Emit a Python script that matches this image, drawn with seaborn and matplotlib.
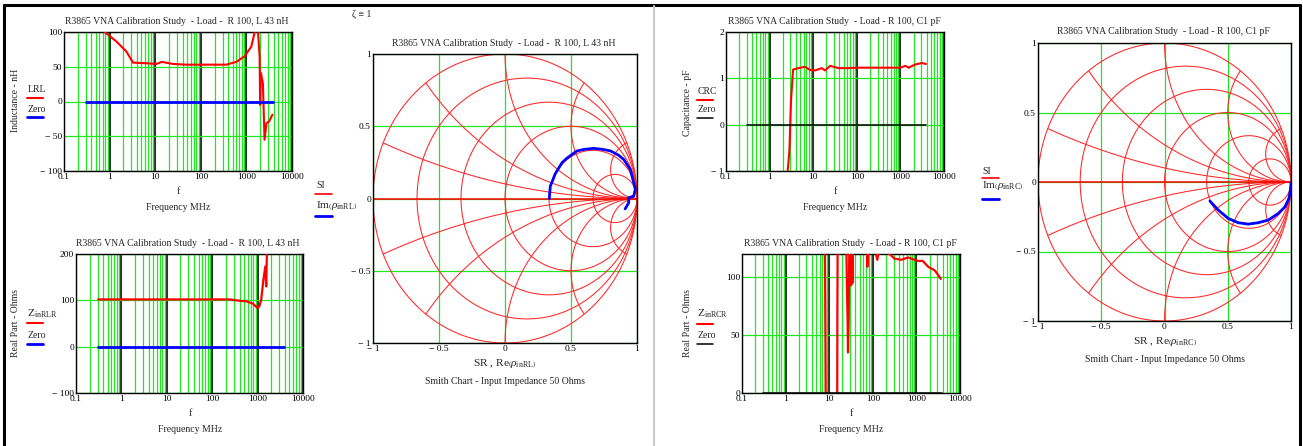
import matplotlib

matplotlib.use("Agg")

import matplotlib.pyplot as plt
from matplotlib.lines import Line2D
from matplotlib.ticker import FixedFormatter, FixedLocator, LogLocator, NullFormatter
import numpy as np
import seaborn as sns

ZERO_FREQ = [0.3, 3800]
ZERO_VAL = [0, 0]

# inductance estimate, R 100 / L 43 nH load (nH vs MHz)
LRL_FREQ = [0.3, 0.55, 0.78, 1.4, 2.33, 3.26, 6.4, 10.6, 14, 24.6, 48, 100, 363, 600, 910,
            1282, 1520, 1650, 1795, 1950, 2000, 2080, 2300, 2500, 2760, 3130, 3720]
LRL_VAL = [190, 130, 100, 86.5, 72, 56, 55, 54, 57, 54, 53, 53, 53, 57, 65,
           79, 100, 130, 100, 65, -5, 41, 26, -55, -31, -29, -19]

# real part, R 100 / L 43 nH load (Ohms vs MHz)
ZRLR_FREQ = [0.31, 245, 405, 560, 790, 1000, 1090, 1200, 1340, 1480, 1550, 1600, 1700]
ZRLR_VAL = [102, 102, 99, 98, 93, 83, 87, 101, 144, 173, 130, 200, 260]

# capacitance estimate, R 100 / C1 pF load (pF vs MHz)
CRC_FREQ = [2.5, 2.6, 2.85, 3.1, 3.46, 4.6, 6.5, 8.5, 11, 15.8, 18.7, 24.5, 38, 65, 100,
            540, 1000, 1300, 1550, 2200, 3100, 3860]
CRC_VAL = [-2.5, -1.0, -0.55, 0.53, 1.19, 1.22, 1.25, 1.18, 1.17, 1.22, 1.17, 1.27, 1.22, 1.22, 1.23,
           1.23, 1.23, 1.27, 1.23, 1.3, 1.33, 1.31]

# real part, R 100 / C1 pF load (Ohms vs MHz)
ZRCR_FREQ = [0.3, 7.6, 7.9, 8.1, 8.4, 15.2, 15.4, 15.7, 20, 24.6, 25.5, 26.5, 27, 28, 29, 31, 32,
             33, 34, 35, 50, 73, 75, 78, 110, 127, 140, 224, 316, 450, 640, 1100, 1400, 1860,
             2600, 3150, 3600]
ZRCR_VAL = [300, 300, 130, 84, -40, -40, 70, 150, 160, 130, 92, 60, 35, 66, 130, 150, 93,
            150, 95, 140, 135, 125, 109, 125, 125, 115, 125, 121, 116, 115, 117, 114, 114, 109,
            106, 102, 98.5]

# reflection coefficient traces
RHO_RL_RE = [0.336, 0.343, 0.364, 0.38, 0.432, 0.47, 0.545, 0.6, 0.672, 0.74, 0.80, 0.86, 0.90,
             0.95, 0.975, 0.987, 0.975, 0.937, 0.937, 0.91]
RHO_RL_IM = [0.0, 0.085, 0.132, 0.17, 0.248, 0.28, 0.329, 0.34, 0.347, 0.34, 0.329, 0.30, 0.27,
             0.2, 0.109, 0.063, 0.016, 0.005, -0.03, -0.072]
RHO_RC_RE = [0.359, 0.425, 0.504, 0.583, 0.662, 0.741, 0.82, 0.90, 0.953, 0.984, 0.995, 1.0]
RHO_RC_IM = [-0.137, -0.202, -0.262, -0.293, -0.303, -0.293, -0.274, -0.226, -0.178, -0.118,
             -0.058, -0.005]

DECADES = [0.1, 1, 10, 100, 1000, 10000]
DECADE_LABELS = ["0.1", "1", "10", "100", "1000", "10000"]
SMITH_TICKS = [-1, -0.5, 0, 0.5, 1]
R_CIRCLES = [0, 0.2, 0.5, 1, 2, 5]
X_ARCS = [0.2, 0.5, 1, 2, 5, -0.2, -0.5, -1, -2, -5]

TITLE_L = "R3865 VNA Calibration Study  - Load -  R 100, L 43 nH"
TITLE_C = "R3865 VNA Calibration Study  - Load - R 100, C1 pF"

W, H = 1303, 446
GREEN = "#22e622"
DECADE = "#303030"
RED = "#ff0000"
BLUE = "#0000ff"
SMITH_RED = "#ff2626"
TICK_FS = 6.8
TEXT_FS = 7.0
MATH_FS = 8.2

sns.set_theme(style="white")
plt.rcParams["font.family"] = ["Liberation Serif", "DejaVu Serif"]
plt.rcParams["mathtext.fontset"] = "custom"
plt.rcParams["mathtext.rm"] = "Liberation Serif"
plt.rcParams["mathtext.it"] = "Liberation Serif:italic"
plt.rcParams["axes.unicode_minus"] = False


def rect(left, top, right, bottom):
    return [left / W, 1 - bottom / H, (right - left) / W, (bottom - top) / H]


def txt(fig, x, y, s, **kw):
    kw.setdefault("fontsize", TEXT_FS)
    kw.setdefault("ha", "center")
    kw.setdefault("va", "center")
    fig.text(x / W, 1 - y / H, s, **kw)


def hline(fig, x0, x1, y, color, lw):
    fig.add_artist(Line2D([x0 / W, x1 / W], [1 - y / H, 1 - y / H], color=color, lw=lw))


def mc_label(v):
    if v < 0:
        return "\u2212 " + format(abs(v), "g")
    return format(v, "g")


def style_frame(ax):
    ax.set_axisbelow(True)
    ax.tick_params(which="both", length=0, labelsize=TICK_FS, pad=1.5, colors="black")
    for s in ax.spines.values():
        s.set_visible(True)
        s.set_color("black")
        s.set_linewidth(1.0)


def freq_axes(fig, r, ylim, yticks):
    ax = fig.add_axes(r)
    ax.set_xscale("log")
    ax.set_xlim(0.1, 10000)
    ax.set_ylim(*ylim)
    ax.xaxis.set_major_locator(FixedLocator(DECADES))
    ax.xaxis.set_major_formatter(FixedFormatter(DECADE_LABELS))
    ax.xaxis.set_minor_locator(LogLocator(base=10, subs=np.arange(2, 10), numticks=60))
    ax.xaxis.set_minor_formatter(NullFormatter())
    ax.yaxis.set_major_locator(FixedLocator(yticks))
    ax.yaxis.set_major_formatter(FixedFormatter([mc_label(v) for v in yticks]))
    ax.grid(True, which="minor", axis="x", color=GREEN, lw=0.9)
    ax.grid(True, which="major", axis="x", color=DECADE, lw=1.5)
    ax.grid(True, which="major", axis="y", color=GREEN, lw=0.9)
    style_frame(ax)
    return ax


def smith_axes(fig, r):
    ax = fig.add_axes(r)
    ax.set_xlim(-1, 1)
    ax.set_ylim(-1, 1)
    for axis in (ax.xaxis, ax.yaxis):
        axis.set_major_locator(FixedLocator(SMITH_TICKS))
        axis.set_major_formatter(FixedFormatter([mc_label(v) for v in SMITH_TICKS]))
    ax.grid(True, color=GREEN, lw=0.9)
    style_frame(ax)
    t = np.linspace(0, 2 * np.pi, 500)
    for rr in R_CIRCLES:
        c, rad = rr / (1 + rr), 1 / (1 + rr)
        ax.plot(c + rad * np.cos(t), rad * np.sin(t), color=SMITH_RED, lw=0.75)
    rs = np.concatenate([[0], np.logspace(-3, 3, 400)])
    for xx in X_ARCS:
        z = rs + 1j * xx
        g = (z - 1) / (z + 1)
        ax.plot(g.real, g.imag, color=SMITH_RED, lw=0.75)
    ax.axhline(0, color=RED, lw=1.1, zorder=2.5)
    return ax


def trace(ax, x, y, color, lw, sort=True):
    sns.lineplot(x=x, y=y, ax=ax, color=color, lw=lw, sort=sort, estimator=None, zorder=3)
    ax.set_xlabel("")
    ax.set_ylabel("")


fig = plt.figure(figsize=(W / 100, H / 100), dpi=100)

# page frame
fig.add_artist(Line2D([4 / W, 1300 / W], [1 - 5 / H, 1 - 5 / H], color="black", lw=2.2))
fig.add_artist(Line2D([4 / W, 4 / W], [0, 1 - 5 / H], color="black", lw=2.2))
fig.add_artist(Line2D([1300 / W, 1300 / W], [0, 1 - 5 / H], color="black", lw=2.2))
fig.add_artist(Line2D([654 / W, 654 / W], [0, 1 - 6 / H], color="#c8c8c8", lw=1.5))

# panel 1: inductance
ax1 = freq_axes(fig, rect(64, 32, 292, 171), (-100, 100), [-100, -50, 0, 50, 100])
trace(ax1, LRL_FREQ, LRL_VAL, RED, 1.5)
trace(ax1, ZERO_FREQ, ZERO_VAL, BLUE, 2.0)
txt(fig, 177, 21, TITLE_L)
txt(fig, 178, 192, "f")
txt(fig, 178, 207, "Frequency MHz")
txt(fig, 15, 100, "Inductance - nH", rotation=90)
txt(fig, 28, 90, "LRL", ha="left")
hline(fig, 27, 43, 98, RED, 1.5)
txt(fig, 28, 109, "Zero", ha="left")
hline(fig, 27, 43, 117, BLUE, 2.0)

# panel 2: real part, RL load
ax2 = freq_axes(fig, rect(76, 254, 303, 393), (-100, 200), [-100, 0, 100, 200])
trace(ax2, ZRLR_FREQ, ZRLR_VAL, RED, 1.6)
trace(ax2, ZERO_FREQ, ZERO_VAL, BLUE, 2.0)
txt(fig, 188, 244, TITLE_L)
txt(fig, 190, 413, "f")
txt(fig, 190, 429, "Frequency MHz")
txt(fig, 15, 323, "Real Part - Ohms", rotation=90)
txt(fig, 27, 314, r"Z$_{\mathrm{inRLR}}$", ha="left", fontsize=MATH_FS)
hline(fig, 27, 43, 323, RED, 1.5)
txt(fig, 28, 335, "Zero", ha="left")
hline(fig, 27, 43, 344, BLUE, 2.0)

# panel 3: Smith chart, RL load
ax3 = smith_axes(fig, rect(373, 54, 637, 343))
trace(ax3, RHO_RL_RE, RHO_RL_IM, BLUE, 2.0, sort=False)
txt(fig, 504, 43, TITLE_L)
txt(fig, 505, 364, r"SR , Re$\left(\rho_{\mathrm{inRL}}\right)$", fontsize=MATH_FS)
txt(fig, 505, 382, "Smith Chart - Input Impedance 50 Ohms")
txt(fig, 362, 14, "\u03b6 \u2261 1")
txt(fig, 316, 185, "SI", ha="left")
hline(fig, 315, 332, 194, RED, 1.2)
txt(fig, 316, 205, r"Im$\left(\rho_{\mathrm{inRL}}\right)$", ha="left", fontsize=MATH_FS)
hline(fig, 315, 332, 216, BLUE, 2.0)

# panel 4: capacitance
ax4 = freq_axes(fig, rect(726, 32, 944, 171), (-1, 2), [-1, 0, 1, 2])
trace(ax4, CRC_FREQ, CRC_VAL, RED, 1.5)
trace(ax4, ZERO_FREQ, ZERO_VAL, "black", 1.1)
txt(fig, 834, 21, TITLE_C)
txt(fig, 835, 192, "f")
txt(fig, 835, 207, "Frequency MHz")
txt(fig, 687, 103, "Capacitance - pF", rotation=90)
txt(fig, 698, 92, "CRC", ha="left")
hline(fig, 697, 713, 100, RED, 1.5)
txt(fig, 698, 110, "Zero", ha="left")
hline(fig, 697, 713, 118, "black", 1.1)

# panel 5: real part, RC load
ax5 = freq_axes(fig, rect(742, 254, 960, 393), (0, 120), [0, 50, 100])
trace(ax5, ZRCR_FREQ, ZRCR_VAL, RED, 1.6)
trace(ax5, ZERO_FREQ, ZERO_VAL, "black", 1.1)
txt(fig, 850, 244, TITLE_C)
txt(fig, 851, 413, "f")
txt(fig, 851, 429, "Frequency MHz")
txt(fig, 687, 323, "Real Part - Ohms", rotation=90)
txt(fig, 697, 314, r"Z$_{\mathrm{inRCR}}$", ha="left", fontsize=MATH_FS)
hline(fig, 697, 713, 324, RED, 1.5)
txt(fig, 698, 335, "Zero", ha="left")
hline(fig, 697, 713, 344, "black", 1.1)

# panel 6: Smith chart, RC load
ax6 = smith_axes(fig, rect(1038, 43, 1291, 321))
trace(ax6, RHO_RC_RE, RHO_RC_IM, BLUE, 2.0, sort=False)
txt(fig, 1163, 32, TITLE_C)
txt(fig, 1165, 342, r"SR , Re$\left(\rho_{\mathrm{inRC}}\right)$", fontsize=MATH_FS)
txt(fig, 1165, 360, "Smith Chart - Input Impedance 50 Ohms")
txt(fig, 982, 171, "SI", ha="left")
hline(fig, 982, 999, 178, RED, 1.2)
txt(fig, 982, 186, r"Im$\left(\rho_{\mathrm{inRC}}\right)$", ha="left", fontsize=MATH_FS)
hline(fig, 982, 999, 199, BLUE, 2.0)

fig.savefig("out.png", dpi=100)
